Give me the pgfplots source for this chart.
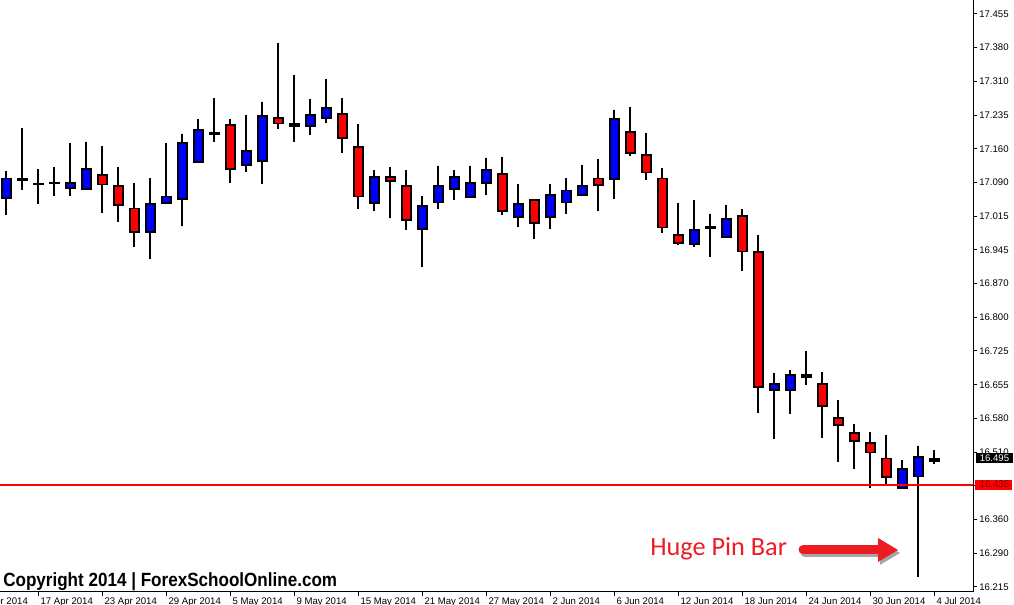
\documentclass[border=0pt]{standalone}
\usepackage{fontspec}
\setmainfont{Liberation Sans}
\newfontfamily\calib{Carlito}
\usepackage{pgfplots}
\usepackage{pgfplotstable}
\pgfplotsset{compat=1.18}
\usetikzlibrary{arrows.meta}

\definecolor{cblue}{RGB}{0,0,255}
\definecolor{cred}{RGB}{255,0,0}
\definecolor{annred}{RGB}{237,28,36}
\definecolor{lblred}{RGB}{120,0,0}

\pgfplotstableread{
x o h l c
0 17.056 17.115 17.021 17.099
1 17.095 17.208 17.075 17.099
2 17.086 17.120 17.044 17.087
3 17.089 17.124 17.060 17.090
4 17.078 17.176 17.060 17.089
5 17.076 17.178 17.074 17.119
6 17.106 17.169 17.025 17.086
7 17.082 17.124 17.005 17.041
8 17.034 17.089 16.951 16.983
9 16.983 17.100 16.925 17.043
10 17.045 17.176 17.043 17.060
11 17.054 17.195 16.997 17.175
12 17.134 17.228 17.133 17.203
13 17.195 17.273 17.179 17.197
14 17.214 17.228 17.090 17.119
15 17.128 17.236 17.112 17.158
16 17.136 17.265 17.086 17.234
17 17.229 17.392 17.205 17.218
18 17.212 17.323 17.179 17.216
19 17.212 17.271 17.194 17.236
20 17.229 17.314 17.220 17.251
21 17.238 17.273 17.155 17.186
22 17.167 17.217 17.034 17.060
23 17.045 17.117 17.029 17.102
24 17.102 17.123 17.014 17.093
25 17.082 17.117 16.988 17.009
26 16.989 17.061 16.908 17.039
27 17.047 17.126 17.034 17.082
28 17.076 17.117 17.053 17.102
29 17.058 17.126 17.057 17.089
30 17.089 17.143 17.064 17.117
31 17.108 17.146 17.021 17.028
32 17.015 17.087 16.993 17.043
33 17.052 17.053 16.969 17.002
34 17.015 17.087 16.990 17.063
35 17.047 17.100 17.023 17.073
36 17.063 17.128 17.062 17.082
37 17.099 17.141 17.029 17.084
38 17.097 17.247 17.055 17.227
39 17.199 17.254 17.148 17.154
40 17.149 17.197 17.096 17.112
41 17.099 17.122 16.980 16.993
42 16.976 17.046 16.954 16.959
43 16.957 17.052 16.951 16.987
44 16.992 17.022 16.928 16.994
45 16.972 17.042 16.971 17.011
46 17.017 17.033 16.899 16.941
47 16.939 16.977 16.592 16.647
48 16.641 16.677 16.536 16.654
49 16.641 16.684 16.590 16.673
50 16.673 16.726 16.653 16.669
51 16.654 16.680 16.538 16.606
52 16.580 16.619 16.486 16.565
53 16.548 16.567 16.471 16.530
54 16.526 16.550 16.430 16.506
55 16.493 16.543 16.436 16.452
56 16.430 16.489 16.428 16.470
57 16.454 16.519 16.237 16.496
58 16.487 16.511 16.480 16.492
}\candles

\begin{document}
\begin{tikzpicture}
\begin{axis}[
  at={(0pt,0pt)}, anchor=south west,
  scale only axis, width=729.75pt, height=444pt,
  xmin=-0.394, xmax=60.419, ymin=16.2040, ymax=17.4853,
  axis x line*=bottom, axis y line*=right,
  axis line style={black, line width=0.75pt},
  tick align=outside, major tick length=3pt,
  tick style={black, line width=0.75pt},
  xtick={2,6,...,58},
  xticklabels={17 Apr 2014, 23 Apr 2014, 29 Apr 2014, 5 May 2014, 9 May 2014, 15 May 2014, 21 May 2014, 27 May 2014, 2 Jun 2014, 6 Jun 2014, 12 Jun 2014, 18 Jun 2014, 24 Jun 2014, 30 Jun 2014, 4 Jul 2014},
  ytick={16.215,16.28794,16.36088,16.43383,16.50677,16.57971,16.65265,16.72559,16.79853,16.87147,16.94441,17.01735,17.09030,17.16324,17.23618,17.30912,17.38206,17.455},
  yticklabels={16.215,16.290,16.360,16.435,16.510,16.580,16.655,16.725,16.800,16.870,16.945,17.015,17.090,17.160,17.235,17.310,17.380,17.455},
  /pgf/number format/assume math mode=true,
  ticklabel style={font=\fontsize{7.2}{8}\selectfont},
  xticklabel style={anchor=north west, inner sep=0pt, xshift=1.5pt, yshift=-1pt},
  yticklabel style={anchor=west, inner sep=0pt, xshift=1.5pt},
]
\pgfplotsinvokeforeach{0,...,58}{
  \pgfplotstablegetelem{#1}{o}\of\candles \let\cO\pgfplotsretval
  \pgfplotstablegetelem{#1}{c}\of\candles \let\cC\pgfplotsretval
  \pgfplotstablegetelem{#1}{h}\of\candles \let\cH\pgfplotsretval
  \pgfplotstablegetelem{#1}{l}\of\candles \let\cL\pgfplotsretval
  \pgfplotstablegetelem{#1}{x}\of\candles \let\cX\pgfplotsretval
  \pgfmathsetmacro\xa{\cX-0.272}
  \pgfmathsetmacro\xb{\cX+0.272}
  \ifdim\cC pt<\cO pt
    \def\ccol{cred}\let\clo\cC\let\chv\cO
  \else
    \def\ccol{cblue}\let\clo\cO\let\chv\cC
  \fi
  \edef\doit{\noexpand\addplot[black, line width=1.4pt, mark=none] coordinates {(\cX,\cL) (\cX,\cH)};
    \noexpand\addplot[draw=black, fill=\ccol, line width=1.4pt, mark=none] coordinates {(\xa,\clo) (\xb,\clo) (\xb,\chv) (\xa,\chv)} -- cycle;}
  \doit
}
\addplot[cred, line width=1.6pt] coordinates {(-0.394,16.435) (60.419,16.435)};
\end{axis}
\begin{scope}[x=0.75pt, y=-0.75pt, shift={(0pt,444pt)}]
  \node[anchor=base west, inner sep=0pt, font=\bfseries\fontsize{12.8}{14}\selectfont] at (3,586.7) {\scalebox{1}[1.12]{Copyright 2014 | ForexSchoolOnline.com}};
  \node[anchor=north west, inner sep=0pt, font=\fontsize{7.2}{8}\selectfont] at (-24,597.5) {11 Apr 2014};
  \node[anchor=base west, inner sep=0pt, text=annred, font=\calib\fontsize{19.7}{22}\selectfont] at (650,555.7) {Huge Pin Bar};
  \begin{scope}[shift={(2,3)}]
    \draw[black, opacity=0.35, line width=6.75pt, line cap=round] (803,550) -- (882,550);
    \fill[black, opacity=0.35] (878,538) -- (898,550) -- (878,562) -- cycle;
  \end{scope}
  \draw[annred, line width=6.75pt, line cap=round] (803,550) -- (882,550);
  \fill[annred] (878,538) -- (898,550) -- (878,562) -- cycle;
  \fill[black] (975.7,453.3) rectangle (1013,463.3);
  \node[anchor=west, inner sep=0pt, text=white, font=\fontsize{7.2}{8}\selectfont] at (979.5,458.3) {16.495};
  \fill[cred] (975,479.7) rectangle (1011.7,489.7);
  \node[anchor=west, inner sep=0pt, text=lblred, font=\fontsize{7.2}{8}\selectfont] at (979.5,484.7) {16.435};
  \pgfresetboundingbox
  \path[use as bounding box] (0,0) rectangle (1014,605);
\end{scope}
\end{tikzpicture}
\end{document}
